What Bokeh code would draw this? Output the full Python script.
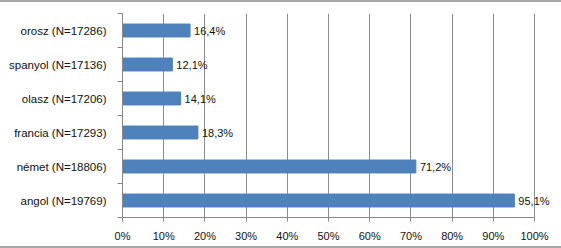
from bokeh.plotting import figure
from bokeh.models import ColumnDataSource, FixedTicker, Range1d, LabelSet
from bokeh.core.properties import value
from bokeh.embed import file_html
from bokeh.resources import INLINE

languages = ["angol", "német", "francia", "olasz", "spanyol", "orosz"]
n_counts = [19769, 18806, 17293, 17206, 17136, 17286]
percents = [95.1, 71.2, 18.3, 14.1, 12.1, 16.4]
x_ticks = [0, 10, 20, 30, 40, 50, 60, 70, 80, 90, 100]

FONT = "Liberation Sans"
pos = [i + 0.5 for i in range(len(languages))]
cat_labels = [f"{l} (N={n})" for l, n in zip(languages, n_counts)]
val_labels = [f"{v:.1f}%".replace(".", ",") for v in percents]

src = ColumnDataSource(dict(y=pos, x=percents, lab=val_labels))

p = figure(width=561, height=248, output_backend="svg", toolbar_location=None,
           x_range=Range1d(0, 104.6), y_range=Range1d(0, len(languages)),
           min_border_left=122, min_border_right=8, min_border_top=11, min_border_bottom=33)
p.outline_line_color = None
p.background_fill_color = "white"
p.border_fill_color = "white"

p.hbar(y="y", right="x", left=0, height=0.38, source=src, color="#4F81BD")
labels = LabelSet(x="x", y="y", text="lab", source=src, x_offset=4, text_baseline="middle",
                  text_font=value(FONT), text_font_size="11px", text_color="#111111",
                  level="overlay")
p.add_layout(labels)

# x axis
p.xaxis.ticker = FixedTicker(ticks=x_ticks)
p.xaxis.bounds = (0, 100)
p.xaxis.major_label_overrides = {t: f"{t}%" for t in x_ticks}
p.xaxis.axis_line_color = "#868686"
p.xaxis.major_tick_line_color = "#868686"
p.xaxis.major_tick_out = 4
p.xaxis.major_tick_in = 0
p.xaxis.minor_tick_line_color = None
p.xaxis.major_label_text_font = FONT
p.xaxis.major_label_text_font_size = "11px"
p.xaxis.major_label_text_color = "#111111"
p.xaxis.major_label_standoff = 8

# y axis
p.yaxis.ticker = FixedTicker(ticks=pos, minor_ticks=list(range(len(languages) + 1)))
p.yaxis.major_label_overrides = {pv: lab for pv, lab in zip(pos, cat_labels)}
p.yaxis.axis_line_color = "#868686"
p.yaxis.major_tick_line_color = None
p.yaxis.minor_tick_line_color = "#868686"
p.yaxis.minor_tick_out = 5
p.yaxis.minor_tick_in = 0
p.yaxis.major_label_text_font = FONT
p.yaxis.major_label_text_font_size = "11.5px"
p.yaxis.major_label_text_color = "#111111"
p.yaxis.major_label_standoff = 10

p.xgrid.ticker = FixedTicker(ticks=x_ticks)
p.xgrid.grid_line_color = "#8c8c8c"
p.ygrid.grid_line_color = None

p.styles = {"border-top": "2px solid #a8a8a8", "border-bottom": "2px solid #a8a8a8",
            "box-sizing": "border-box"}

open("out.html", "w").write(file_html(p, INLINE))
